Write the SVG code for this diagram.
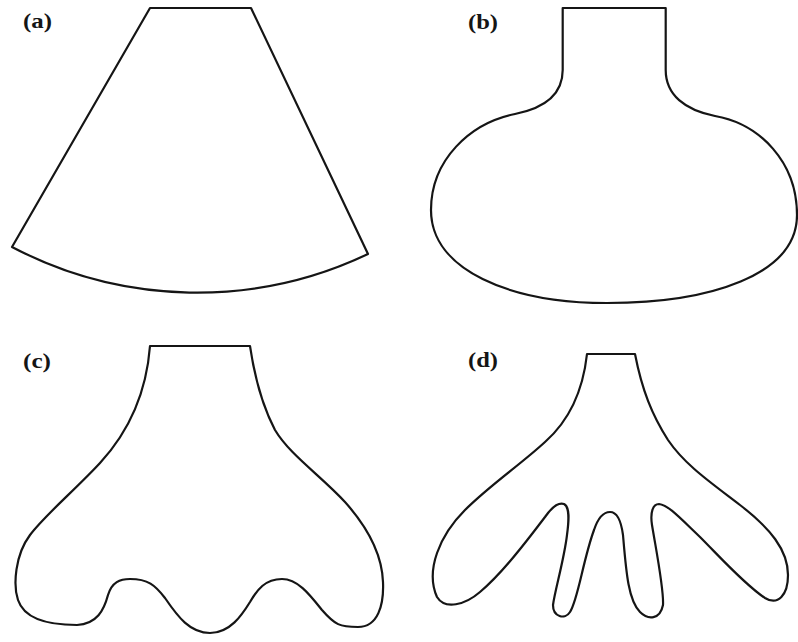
<svg xmlns="http://www.w3.org/2000/svg" width="798" height="642" viewBox="0 0 798 642">
<style>
.shape{fill:none;stroke:#151515;stroke-width:2.2;stroke-linejoin:round;stroke-linecap:round}
.lbl{font-family:"Liberation Serif","Times New Roman",serif;font-weight:bold;font-size:22px;fill:#151515}
</style>
<rect width="798" height="642" fill="#ffffff"/>
<g id="panel-a">
<text class="lbl" x="23" y="28" textLength="29" lengthAdjust="spacingAndGlyphs">(a)</text>
<path class="shape" d="M150,8 L251,8 L368,254 A398,398 0 0 1 12,247 Z"/>
</g>
<g id="panel-b">
<text class="lbl" x="468" y="29" textLength="30" lengthAdjust="spacingAndGlyphs">(b)</text>
<path class="shape" d="M562.7,8 L665.7,8 L665.7,70 C665.7,95 685,110 715,116 C760,124 797,162 797,215 C797,275 710,303 607,303 C510,303 431,270 431,210 C431,160 470,123 515,114 C545,108 562.7,95 562.7,70 Z"/>
</g>
<g id="panel-c">
<text class="lbl" x="23" y="368" textLength="28" lengthAdjust="spacingAndGlyphs">(c)</text>
<path class="shape" d="M150,346 L250,346 C255,380 262,405 275,430 C290,455 320,475 345,502 C370,530 382,555 383,582 C384,605 378,627 358,627 C340,627 335,625 322,610 C310,595 298,579 282,579 C265,579 257,590 250,602 C242,615 230,633 210,633 C190,633 178,617 165,598 C155,585 148,579 130,579 C120,579 112,582 108,595 C104,610 97,624 77,625 C45,625 24,618 18,600 C13,585 15,555 30,535 C45,515 75,490 100,463 C135,425 147,385 150,346 Z"/>
</g>
<g id="panel-d">
<text class="lbl" x="468" y="367" textLength="30" lengthAdjust="spacingAndGlyphs">(d)</text>
<path class="shape" d="M587,354 L635,354 C642,390 652,415 668,440 C685,465 710,482 740,505 C770,528 788,550 788,575 C788,595 778,606 765,598 C745,585 720,557 700,537 C678,516 668,505 659,504 C653,504 650,512 652,525 C657,555 664,590 663,605 C660,620 648,620 640,612 C628,600 626,570 623,535 C621,520 617,512 610,512 C603,512 598,518 594,530 C583,560 578,600 570,612 C565,620 553,617 553,605 C555,590 564,560 567,535 C569,520 570,507 564,504 C558,502 552,507 545,517 C520,550 500,575 480,592 C465,605 445,610 437,597 C425,570 440,535 465,510 C490,485 520,465 545,442 C570,420 583,390 587,354 Z"/>
</g>
</svg>
